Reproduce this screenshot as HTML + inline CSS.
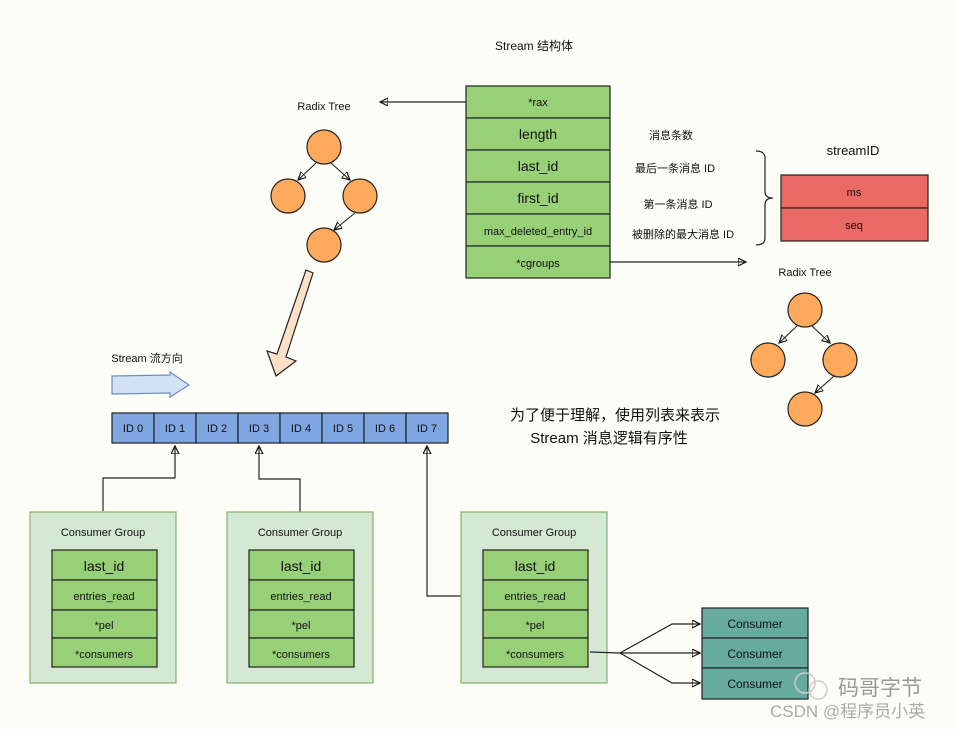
<!DOCTYPE html>
<html><head><meta charset="utf-8"><style>
html,body{margin:0;padding:0;background:#fdfdf8;}
svg{display:block;}
text{font-family:"Liberation Sans","Noto Sans CJK SC",sans-serif;fill:#111;}
</style></head><body>
<svg width="957" height="729" viewBox="0 0 957 729" xmlns="http://www.w3.org/2000/svg">
<defs>
<marker id="ah" markerWidth="10" markerHeight="10" refX="8" refY="4" orient="auto" markerUnits="userSpaceOnUse">
<path d="M0,0 L8,4 L0,8 Z" fill="none" stroke="#111" stroke-width="1.2"/>
</marker>
</defs>
<rect width="957" height="729" fill="#fdfdf8"/>

<text x="534" y="50" font-size="12" text-anchor="middle">Stream 结构体</text>

<g stroke="#222" stroke-width="1.2" fill="#97d077">
<rect x="466" y="86" width="144" height="32"/>
<rect x="466" y="118" width="144" height="32"/>
<rect x="466" y="150" width="144" height="32"/>
<rect x="466" y="182" width="144" height="32"/>
<rect x="466" y="214" width="144" height="32"/>
<rect x="466" y="246" width="144" height="32"/>
</g>
<g text-anchor="middle">
<text x="538" y="106" font-size="11">*rax</text>
<text x="538" y="139" font-size="14">length</text>
<text x="538" y="171" font-size="14">last_id</text>
<text x="538" y="203" font-size="14">first_id</text>
<text x="538" y="235" font-size="11">max_deleted_entry_id</text>
<text x="538" y="267" font-size="11">*cgroups</text>
<text x="671" y="139" font-size="11">消息条数</text>
<text x="675" y="172" font-size="11">最后一条消息 ID</text>
<text x="678" y="208" font-size="11">第一条消息 ID</text>
<text x="683" y="238" font-size="11">被删除的最大消息 ID</text>
</g>
<path d="M756,151 Q766,151 765,160 L765,192 Q765,198 773,198 Q765,198 765,205 L765,238 Q765,245 756,245" fill="none" stroke="#222" stroke-width="1.2"/>
<text x="853" y="155" font-size="13" text-anchor="middle">streamID</text>
<rect x="781" y="175" width="147" height="33" fill="#ea6b66" stroke="#222" stroke-width="1.2"/>
<rect x="781" y="208" width="147" height="33" fill="#ea6b66" stroke="#222" stroke-width="1.2"/>
<text x="854" y="196" font-size="11" text-anchor="middle">ms</text>
<text x="854" y="229" font-size="11" text-anchor="middle">seq</text>

<line x1="466" y1="102" x2="380" y2="102" stroke="#222" stroke-width="1.2" marker-end="url(#ah)"/>
<line x1="610" y1="262" x2="746" y2="262" stroke="#222" stroke-width="1.2" marker-end="url(#ah)"/>

<text x="324" y="110" font-size="11" text-anchor="middle">Radix Tree</text>
<g stroke="#222" stroke-width="1.1" fill="none">
<line x1="316" y1="163" x2="298" y2="180" marker-end="url(#ah)"/>
<line x1="331" y1="163" x2="350" y2="180" marker-end="url(#ah)"/>
<line x1="355" y1="213" x2="334" y2="230" marker-end="url(#ah)"/>
</g>
<g fill="#ffa95c" stroke="#222" stroke-width="1.2">
<circle cx="324" cy="147" r="17"/><circle cx="288" cy="196" r="17"/><circle cx="360" cy="196" r="17"/><circle cx="324" cy="245" r="17"/>
</g>

<text x="805" y="276" font-size="11" text-anchor="middle">Radix Tree</text>
<g stroke="#222" stroke-width="1.1" fill="none">
<line x1="797" y1="326" x2="779" y2="343" marker-end="url(#ah)"/>
<line x1="812" y1="326" x2="830" y2="343" marker-end="url(#ah)"/>
<line x1="834" y1="376" x2="815" y2="393" marker-end="url(#ah)"/>
</g>
<g fill="#ffa95c" stroke="#222" stroke-width="1.2">
<circle cx="805" cy="310" r="17"/><circle cx="768" cy="360" r="17"/><circle cx="840" cy="360" r="17"/><circle cx="805" cy="409" r="17"/>
</g>

<polygon points="306,270 313,273 286,357 296,361 276,376 267,351 277,354" fill="#fde0c8" stroke="#222" stroke-width="1.2"/>

<text x="147" y="362" font-size="11" text-anchor="middle">Stream 流方向</text>
<polygon points="112,376 170,375 170,372 189,385 170,397 170,393 112,394" fill="#d4e1f5" stroke="#6c8ebf" stroke-width="1.2"/>

<g stroke="#222" stroke-width="1.2" fill="#7ea6e0">
<rect x="112" y="413" width="42" height="30"/><rect x="154" y="413" width="42" height="30"/><rect x="196" y="413" width="42" height="30"/><rect x="238" y="413" width="42" height="30"/>
<rect x="280" y="413" width="42" height="30"/><rect x="322" y="413" width="42" height="30"/><rect x="364" y="413" width="42" height="30"/><rect x="406" y="413" width="42" height="30"/>
</g>
<g font-size="11" text-anchor="middle">
<text x="133" y="432">ID 0</text><text x="175" y="432">ID 1</text><text x="217" y="432">ID 2</text><text x="259" y="432">ID 3</text>
<text x="301" y="432">ID 4</text><text x="343" y="432">ID 5</text><text x="385" y="432">ID 6</text><text x="427" y="432">ID 7</text>
</g>

<text x="615" y="420" font-size="15" text-anchor="middle">为了便于理解，使用列表来表示</text>
<text x="609" y="443" font-size="15" text-anchor="middle">Stream 消息逻辑有序性</text>

<g stroke="#222" stroke-width="1.2" fill="none">
<polyline points="103,511 103,478 175,478 175,446" marker-end="url(#ah)"/>
<polyline points="300,516 300,479 259,479 259,446" marker-end="url(#ah)"/>
<polyline points="461,596 427,596 427,446" marker-end="url(#ah)"/>
</g>

<g id="g1">
<rect x="30" y="512" width="146" height="171" fill="#d5e8d4" stroke="#82b366" stroke-width="1.2"/>
<text x="103" y="536" font-size="11" text-anchor="middle">Consumer Group</text>
<rect x="52" y="550" width="105" height="30" fill="#97d077" stroke="#222" stroke-width="1.2"/>
<rect x="52" y="580" width="105" height="30" fill="#97d077" stroke="#222" stroke-width="1.2"/>
<rect x="52" y="610" width="105" height="28" fill="#97d077" stroke="#222" stroke-width="1.2"/>
<rect x="52" y="638" width="105" height="29" fill="#97d077" stroke="#222" stroke-width="1.2"/>
<text x="104" y="571" font-size="14" text-anchor="middle">last_id</text>
<text x="104" y="600" font-size="11" text-anchor="middle">entries_read</text>
<text x="104" y="629" font-size="11" text-anchor="middle">*pel</text>
<text x="104" y="658" font-size="11" text-anchor="middle">*consumers</text>
</g>
<use href="#g1" x="197"/>
<use href="#g1" x="431"/>

<g stroke="#222" stroke-width="1.2" fill="none">
<line x1="590" y1="652" x2="620" y2="653"/>
<polyline points="620,653 672,624 700,624" marker-end="url(#ah)"/>
<polyline points="620,653 700,653" marker-end="url(#ah)"/>
<polyline points="620,653 672,683 700,683" marker-end="url(#ah)"/>
</g>
<g fill="#67ab9f" stroke="#222" stroke-width="1.2">
<rect x="702" y="608" width="106" height="30"/><rect x="702" y="638" width="106" height="30"/><rect x="702" y="668" width="106" height="31"/>
</g>
<g font-size="12" text-anchor="middle">
<text x="755" y="628">Consumer</text><text x="755" y="658">Consumer</text><text x="755" y="688">Consumer</text>
</g>

<circle cx="805" cy="683" r="10" fill="none" stroke="#ccc" stroke-width="1.5"/>
<circle cx="818" cy="690" r="9" fill="none" stroke="#ccc" stroke-width="1.5"/>
<text x="838" y="695" font-size="21" style="fill:#999">码哥字节</text>
<text x="770" y="717" font-size="17" style="fill:#aaa">CSDN @程序员小英</text>
</svg>
</body></html>
